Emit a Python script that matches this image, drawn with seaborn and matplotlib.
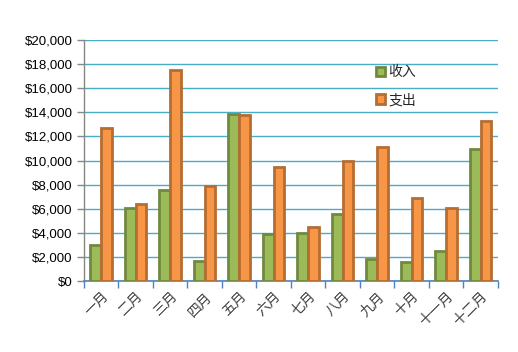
import matplotlib
matplotlib.use("Agg")
import matplotlib.pyplot as plt
import matplotlib.ticker as mticker
import seaborn as sns
import pandas as pd
from matplotlib.patches import Patch

months = ["一月", "二月", "三月", "四月", "五月", "六月", "七月", "八月", "九月", "十月", "十一月", "十二月"]
income = [3000, 6100, 7550, 1700, 13900, 3900, 4000, 5550, 1800, 1600, 2500, 10950]
expense = [12700, 6400, 17500, 7900, 13750, 9450, 4500, 10000, 11100, 6900, 6100, 13300]
series = ["收入", "支出"]

df = pd.DataFrame({
    "month": months * 2,
    "value": income + expense,
    "series": [series[0]] * len(months) + [series[1]] * len(months),
})

sns.set_theme(style="white")
plt.rcParams['font.family'] = ['Noto Sans CJK SC', 'DejaVu Sans']

fig = plt.figure(figsize=(5.18, 3.52), dpi=100)
ax = fig.add_axes([0.162, 0.2017, 0.799, 0.6846])

fills = {"收入": "#9BBB59", "支出": "#F79646"}
edges = {"收入": "#71893F", "支出": "#B66D31"}

sns.barplot(data=df, x="month", y="value", hue="series", palette=fills,
            order=months, hue_order=series, width=0.62, ax=ax, zorder=3,
            legend=False, saturation=1)

for i, cont in enumerate(ax.containers):
    for bar in cont:
        bar.set_edgecolor(edges[series[i]])
        bar.set_linewidth(2)

ax.set_ylim(0, 20000)
ax.set_xlim(-0.5, 11.5)
ax.yaxis.set_major_locator(mticker.MultipleLocator(2000))
ax.yaxis.set_major_formatter(mticker.FuncFormatter(lambda v, p: f"${v:,.0f}"))
ax.grid(axis="y", color="#4BACC6", linewidth=1, zorder=0)
ax.set_axisbelow(True)
ax.set_xlabel("")
ax.set_ylabel("")

for s in ["top", "right"]:
    ax.spines[s].set_visible(False)
ax.spines["left"].set_color("#868686")
ax.spines["bottom"].set_color("#4F81BD")
ax.spines["left"].set_linewidth(1)
ax.spines["bottom"].set_linewidth(1.2)

ax.set_xticks([i - 0.5 for i in range(13)], minor=True)
ax.tick_params(axis="x", which="minor", length=5, color="#4F81BD", width=1, direction="out", bottom=True)
ax.tick_params(axis="x", which="major", length=0, pad=6)
ax.tick_params(axis="y", which="major", length=5, color="#868686", width=1, direction="out", left=True, pad=3)

ax.set_xticks(range(len(months)))
ax.set_xticklabels(months, rotation=45, ha="right", va="top",
                   rotation_mode="anchor", fontsize=10, color="#404040")
for lab in ax.get_yticklabels():
    lab.set_fontfamily(["Liberation Sans", "DejaVu Sans"])
    lab.set_fontsize(9.5)
    lab.set_color("#000000")

handles = [Patch(facecolor=fills[s], edgecolor=edges[s], linewidth=2) for s in series]
leg = ax.legend(handles, series, loc="upper left", bbox_to_anchor=(0.705, 0.895),
                frameon=False, fontsize=10, handlelength=0.7, handleheight=0.7,
                handletextpad=0.2, labelspacing=1.0, borderaxespad=0, borderpad=0)

fig.savefig("out.png", dpi=100)
